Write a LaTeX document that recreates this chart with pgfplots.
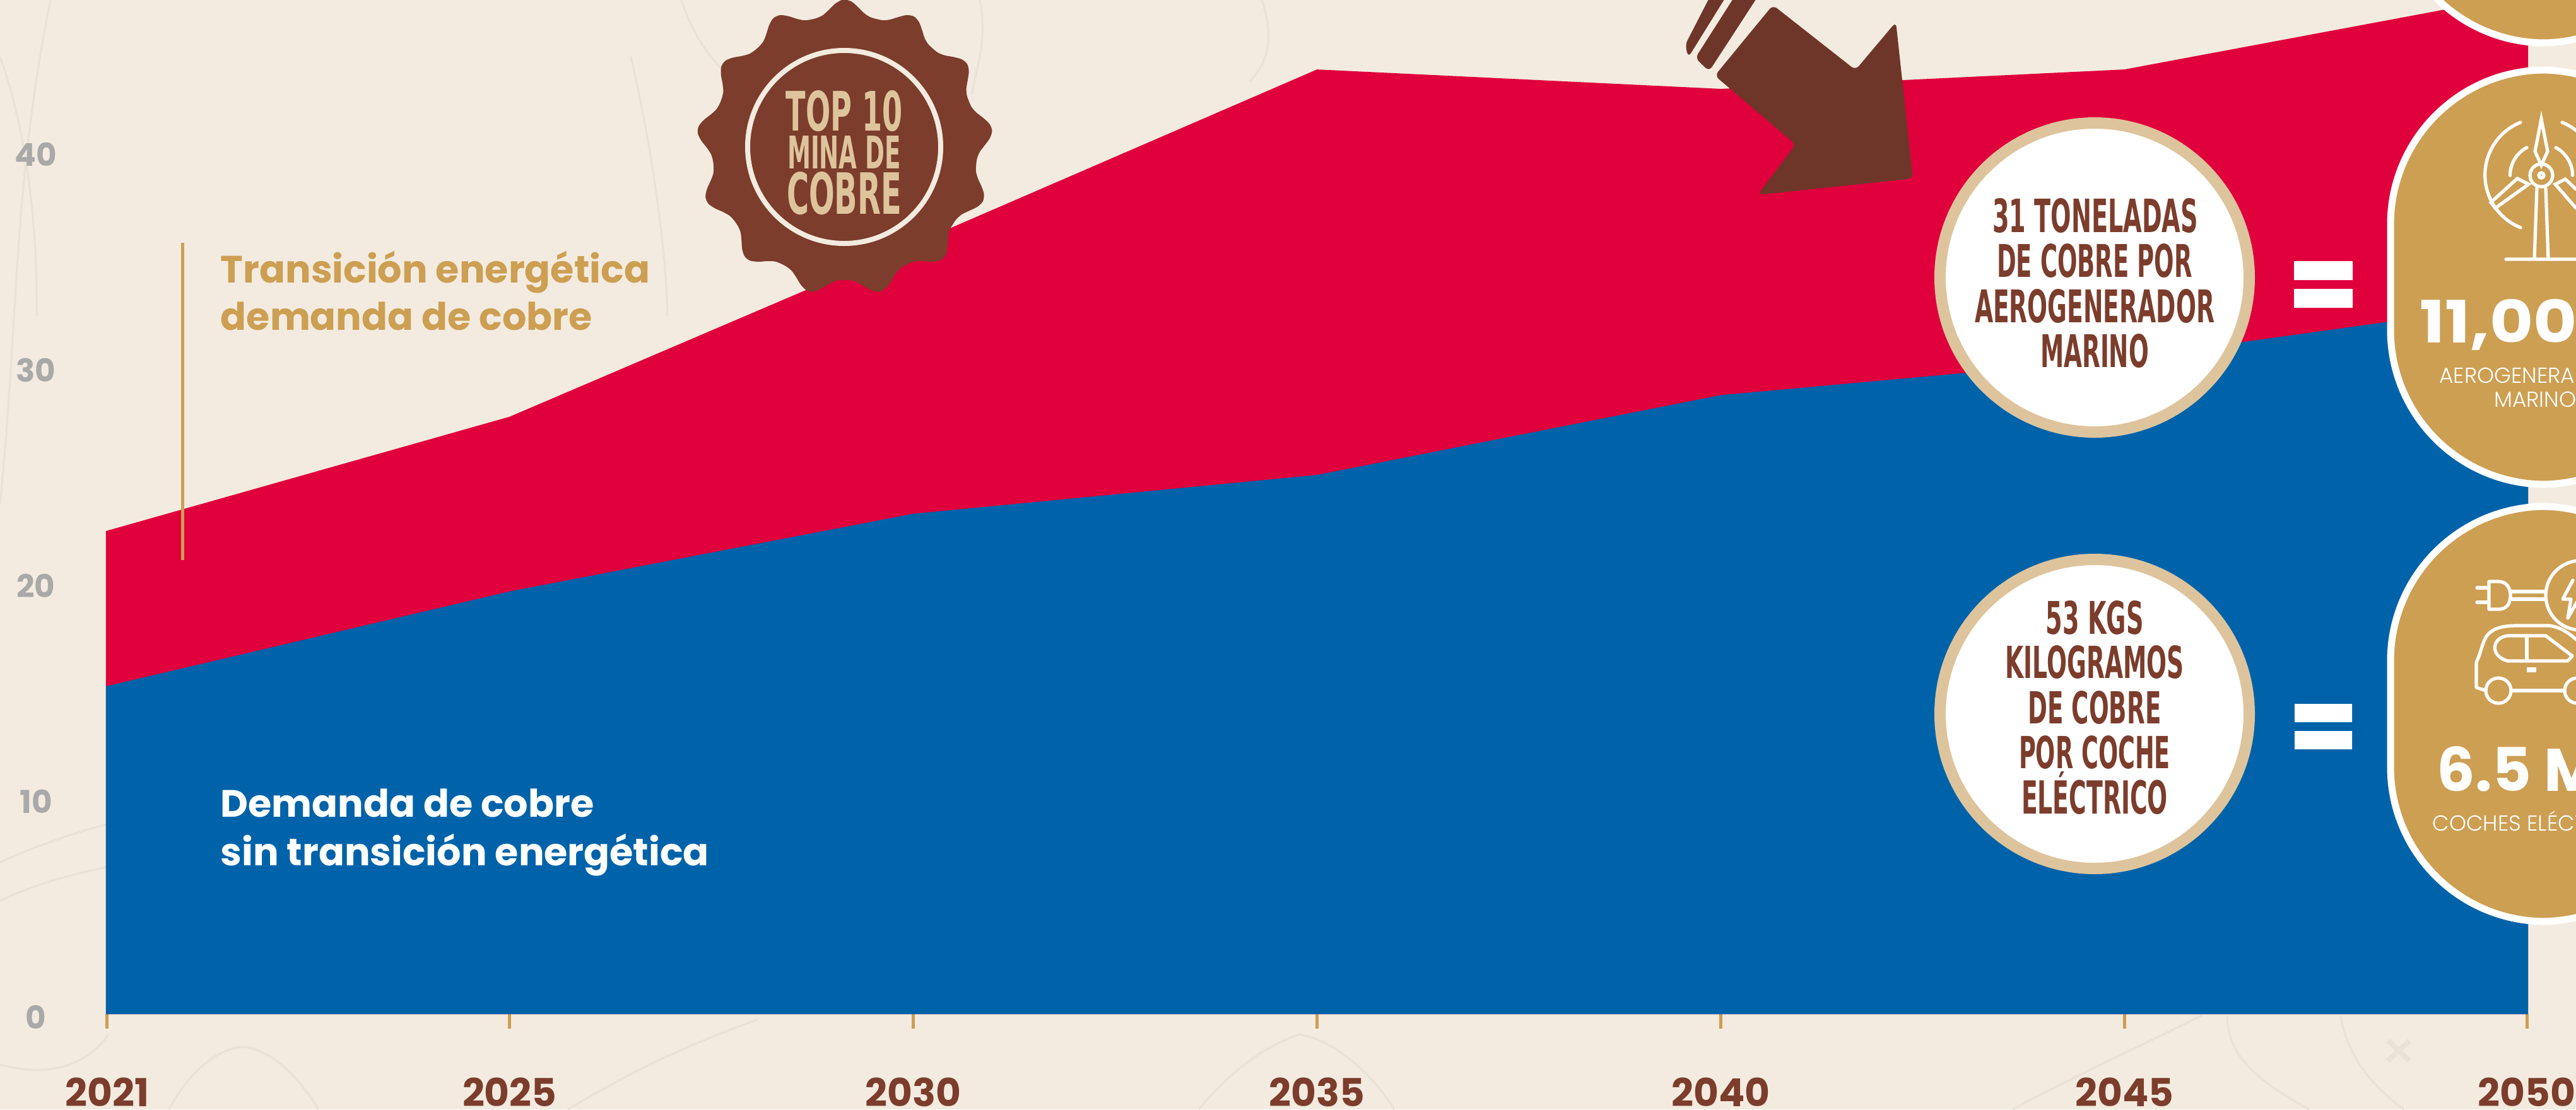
\documentclass[border=0pt]{standalone}
\usepackage{fontspec}
\usepackage{graphicx}
\usepackage{pgfplots}
\pgfplotsset{compat=1.18}
\setmainfont{Poppins}
\newfontfamily\cond{DejaVu Sans}
\newfontfamily\lightf{Poppins Light}
\definecolor{bg}{HTML}{F3EBDF}
\definecolor{contour}{HTML}{EAE2D5}
\definecolor{redc}{HTML}{E0003C}
\definecolor{bluec}{HTML}{0063AA}
\definecolor{brownc}{HTML}{7C3D2C}
\definecolor{arrowc}{HTML}{6E3629}
\definecolor{goldc}{HTML}{CD9F53}
\definecolor{tanc}{HTML}{DEC49C}
\definecolor{grayc}{HTML}{A9A9A9}
\newdimen\pxu \pxu=0.25pt
% condensed headline text, squeezed to a given width and cap height in pixels
\newcommand{\squeeze}[3]{\resizebox{\dimexpr#1\pxu\relax}{\dimexpr#2\pxu\relax}{\cond\bfseries #3}}
\newcommand{\fit}[3]{\resizebox{\dimexpr#1\pxu\relax}{\dimexpr#2\pxu\relax}{\bfseries #3}}
\tikzset{px/.style={x=0.25pt,y=-0.25pt},
  declare function={lobe(\a)=0.5+0.5*cos(13*\a);badger(\a)=210+25*lobe(\a)*sqrt(lobe(\a));}}
\begin{document}
\begin{tikzpicture}
\begin{scope}
\clip (0,0) rectangle (1020.75pt,-439.75pt);
\fill[bg] (0,0) rectangle (1020.75pt,-439.75pt);
% faint contour lines of the backdrop
\begin{scope}[px,contour,line width=0.8pt]
\draw (0,90) .. controls (40,200) and (60,350) .. (58,500);
\draw (80,0) .. controls (20,300) and (30,500) .. (0,800);
\draw (1000,90) .. controls (1030,220) and (1055,380) .. (1058,500);
\draw (1080,0) .. controls (1100,60) and (1125,90) .. (1147,113);
\draw (1553,0) .. controls (1565,60) and (1550,100) .. (1540,150);
\draw (2000,0) .. controls (2020,60) and (2010,100) .. (1980,130);
\draw (0,1367) .. controls (60,1340) and (120,1320) .. (168,1307);
\draw (0,1428) .. controls (60,1400) and (120,1385) .. (168,1375);
\draw (0,1688) .. controls (60,1705) and (130,1700) .. (172,1640);
\draw (268,1759) .. controls (310,1680) and (370,1650) .. (402,1663) .. controls (450,1680) and (480,1720) .. (505,1759);
\draw (900,1759) .. controls (1000,1700) and (1080,1660) .. (1200,1617);
\draw (1900,1759) .. controls (1950,1700) and (2000,1660) .. (2060,1640) .. controls (2120,1650) and (2180,1710) .. (2210,1759);
\draw (3190,1759) .. controls (3300,1700) and (3390,1660) .. (3490,1610);
\draw (3530,1610) .. controls (3530,1680) and (3590,1720) .. (3660,1759);
\draw (3710,1610) .. controls (3720,1680) and (3770,1730) .. (3810,1759);
\draw[line width=2pt] (3785,1650) -- (3819,1682) (3819,1650) -- (3785,1682);
\end{scope}
\begin{axis}[
  at={(42pt,-402pt)}, anchor=south west, scale only axis,
  width=959.75pt, height=402pt,
  xmin=0, xmax=6, ymin=0, ymax=47.02,
  axis line style={draw=none},
  tick align=outside,
  xtick={0.003,1,2,3,4,5,5.997},
  xticklabels={2021,2025,2030,2035,2040,2045,2050},
  ytick={0,10,20,30,40},
  major tick length=5.75pt,
  x tick style={draw=goldc,line width=1.25pt},
  y tick style={draw=none},
  xticklabel style={font=\fontsize{15.3}{15.3}\selectfont\bfseries,text=brownc,anchor=center,yshift=-25.2pt},
  yticklabel style={font=\fontsize{12.5}{12.5}\selectfont\bfseries,text=grayc,anchor=center,xshift=-22pt,yshift=-1.2pt},
  /pgf/number format/assume math mode=true,
]
\addplot[fill=redc,draw=none] coordinates {
(0,22.4) (1,27.7) (2,35.7) (3,43.8) (4,42.9) (5,43.8) (6,47.3)
} \closedcycle;
\addplot[fill=bluec,draw=none] coordinates {
(0,15.2) (1,19.6) (2,23.2) (3,25.0) (4,28.7) (5,30.4) (6,33.0)
} \closedcycle;
\end{axis}
\begin{scope}[px]
% series captions
\draw[goldc,line width=1.25pt] (289,385) -- (289,888);
\node[anchor=base west,inner sep=0,text=goldc,font=\fontsize{15.1}{15.1}\selectfont\bfseries] at (349,448) {Transición energética};
\node[anchor=base west,inner sep=0,text=goldc,font=\fontsize{15.1}{15.1}\selectfont\bfseries] at (349,523) {demanda de cobre};
\node[anchor=base west,inner sep=0,text=white,font=\fontsize{15.1}{15.1}\selectfont\bfseries] at (349,1295) {Demanda de cobre};
\node[anchor=base west,inner sep=0,text=white,font=\fontsize{15.1}{15.1}\selectfont\bfseries] at (349,1372) {sin transición energética};
% badge
\fill[brownc] plot[smooth cycle,domain=0:359,samples=130,variable=\a]
  ({1339+badger(\a)*sin(\a)},{234-badger(\a)*cos(\a)});
\draw[bg,line width=2pt] (1338,233) circle [radius=153];
\node[anchor=base,inner sep=0,text=tanc] at (1338,207) {\squeeze{185}{64}{TOP 10}};
\node[anchor=base,inner sep=0,text=tanc] at (1338,267) {\squeeze{180}{52}{MINA DE}};
\node[anchor=base,inner sep=0,text=tanc] at (1338,339) {\squeeze{182}{67}{COBRE}};
% arrow
\begin{scope}[rounded corners=8\pxu]
\fill[arrowc] (2810,8) -- (2941,111) -- (3005,35) -- (3032,283) -- (2786,309) -- (2846,229) -- (2718,120) -- cycle;
\fill[arrowc] (2723,-30) -- (2751,-30) -- (2676,91) -- (2671,71) -- cycle;
\fill[arrowc] (2765,-30) -- (2802,-30) -- (2709,113) -- (2687,92) -- cycle;
\end{scope}
% pills
\begin{scope}[rounded corners=245\pxu]
\draw[white,line width=2.75pt,fill=goldc] (3789,-600) rectangle (4273,68);
\draw[white,line width=2.75pt,fill=goldc] (3789,111) rectangle (4273,768);
\draw[white,line width=2.75pt,fill=goldc] (3789,803) rectangle (4273,1461);
\end{scope}
% turbine icon
\begin{scope}[white,line width=1.3pt,line cap=round]
\draw (3995,194) arc[start angle=-112,end angle=-180,radius=90] arc[start angle=180,end angle=112,radius=90];
\draw (4061,194) arc[start angle=-68,end angle=-30,radius=90];
\draw (4005,234) arc[start angle=-118,end angle=-180,radius=50];
\draw (4051,234) arc[start angle=-62,end angle=0,radius=50];
\draw (4028,278) circle [radius=18];
\draw (4028,278) circle [radius=4];
\draw (4021,298) -- (4017,411) (4035,298) -- (4039,411) (3972,411) -- (4084,411);
\draw (4028,189) -- (4018,240) -- (4028,262) -- (4038,240) -- cycle;
\draw (3948,321) -- (3990,283) -- (4008,292) -- (3955,330) -- cycle;
\draw (4083,300) -- (4066,284) -- (4050,292) -- (4083,330);
\end{scope}
\node[anchor=base west,inner sep=0,text=white] at (3835,543) {\fit{318}{69}{11,000}};
\node[anchor=base,inner sep=0,text=white,font=\fontsize{8.6}{8.6}\lightf] at (4028,607) {AEROGENERADORES};
\node[anchor=base,inner sep=0,text=white,font=\fontsize{8.6}{8.6}\lightf] at (4028,645) {MARINOS};
% car icon
\begin{scope}[white,line width=1.3pt,line cap=round,line join=round]
\draw (3945,922) -- (3960,922) .. controls (3975,922) and (3979,935) .. (3979,944) .. controls (3979,955) and (3975,966) .. (3960,966) -- (3945,966) -- cycle;
\draw (3945,932) -- (3926,932) (3945,955) -- (3926,955);
\draw (3979,938) -- (4035,938) (3979,950) -- (4035,950);
\draw (4090,944) circle [radius=55];
\draw (4078,920) -- (4062,950) -- (4075,950) -- (4070,980) -- (4090,945);
\draw (3940,1095) -- (3925,1090) -- (3925,1050) .. controls (3940,1020) and (3930,992) .. (3990,992) -- (4040,992) .. controls (4070,995) and (4085,1020) .. (4100,1025);
\draw (3980,1095) -- (4065,1095);
\draw (3960,1095) circle [radius=20];
\draw (4085,1095) circle [radius=20];
\draw (3975,1008) -- (4035,1008) -- (4077,1040) -- (4070,1048) -- (3975,1048) .. controls (3945,1040) and (3950,1010) .. (3975,1008) -- cycle;
\draw (4005,1008) -- (4005,1048);
\fill (4005,1058) rectangle (4020,1066);
\end{scope}
\node[anchor=base west,inner sep=0,text=white] at (3862,1254) {\fit{257}{71}{6.5 M}};
\node[anchor=base,inner sep=0,text=white,font=\fontsize{8.6}{8.6}\lightf] at (4028,1317) {COCHES ELÉCTRICOS};
% circles
\draw[tanc,fill=white,line width=4.5pt] (3320,440) circle [radius=245];
\draw[tanc,fill=white,line width=4.5pt] (3320,1132) circle [radius=245];
\node[anchor=base,inner sep=0,text=brownc] at (3321,368) {\squeeze{326}{54}{31 TONELADAS}};
\node[anchor=base,inner sep=0,text=brownc] at (3320,439) {\squeeze{310}{53}{DE COBRE POR}};
\node[anchor=base,inner sep=0,text=brownc] at (3320,511) {\squeeze{380}{53}{AEROGENERADOR}};
\node[anchor=base,inner sep=0,text=brownc] at (3320,582) {\squeeze{172}{53}{MARINO}};
\node[anchor=base,inner sep=0,text=brownc] at (3320,1005) {\squeeze{155}{53}{53 KGS}};
\node[anchor=base,inner sep=0,text=brownc] at (3320,1075) {\squeeze{283}{52}{KILOGRAMOS}};
\node[anchor=base,inner sep=0,text=brownc] at (3320,1147) {\squeeze{211}{52}{DE COBRE}};
\node[anchor=base,inner sep=0,text=brownc] at (3320,1218) {\squeeze{240}{52}{POR COCHE}};
\node[anchor=base,inner sep=0,text=brownc] at (3320,1290) {\squeeze{232}{67}{ELÉCTRICO}};
% equals signs
\fill[white] (3636,414) rectangle (3729,444) (3636,458) rectangle (3729,488);
\fill[white] (3637,1116) rectangle (3728,1145) (3637,1159) rectangle (3728,1188);
\end{scope}
\end{scope}
\pgfresetboundingbox
\useasboundingbox (0,0) rectangle (1020.75pt,-439.75pt);
\end{tikzpicture}
\end{document}
